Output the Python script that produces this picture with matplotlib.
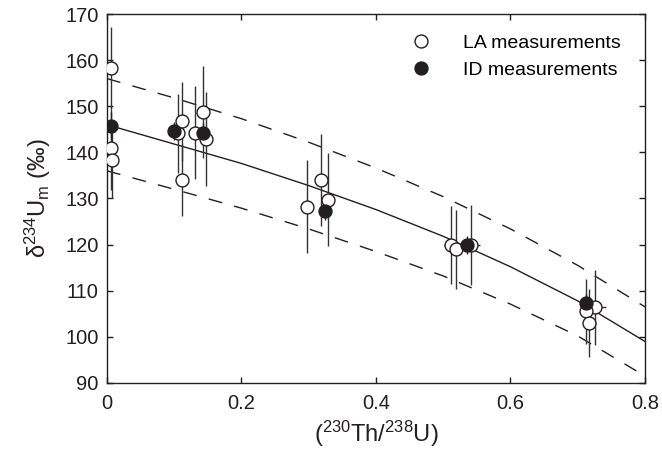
import matplotlib
matplotlib.use("Agg")
import matplotlib.pyplot as plt

plt.rcParams['font.family'] = ['Liberation Sans', 'DejaVu Sans']
plt.rcParams['mathtext.fontset'] = 'custom'
plt.rcParams['mathtext.rm'] = 'Liberation Sans'
plt.rcParams['mathtext.it'] = 'Liberation Sans:italic'

# LA measurements (open circles)
la_x = [0.006, 0.006, 0.007, 0.106, 0.112, 0.111, 0.131, 0.143, 0.147,
        0.298, 0.318, 0.329, 0.511, 0.519, 0.541, 0.726, 0.713, 0.717]
la_y = [158.4, 140.9, 138.3, 144.1, 146.7, 134.0, 144.3, 148.8, 142.9,
        128.2, 134.0, 129.7, 119.9, 119.0, 119.9, 106.4, 105.5, 103.0]
la_yerr = [8.7, 9.0, 8.3, 8.5, 8.6, 7.9, 10.0, 10.0, 10.2,
           10.1, 10.0, 10.1, 8.5, 8.6, 8.6, 8.2, 7.0, 7.4]
la_xerr = [0, 0, 0, 0, 0, 0, 0, 0, 0,
           0, 0, 0, 0.0095, 0, 0.013, 0.016, 0, 0.0095]

# ID measurements (filled circles)
id_x = [0.006, 0.099, 0.143, 0.324, 0.535, 0.712]
id_y = [145.8, 144.6, 144.3, 127.3, 119.9, 107.3]
id_yerr = [3.0, 2.0, 2.0, 2.0, 2.0, 2.0]

# model curve and envelope
curve_x = [0.0, 0.1, 0.2, 0.3, 0.4, 0.5, 0.6, 0.7, 0.8]
curve_mid = [146.0, 141.8, 137.6, 132.8, 127.6, 121.8, 115.2, 107.8, 99.0]
curve_hi = [156.0, 151.8, 147.3, 142.2, 136.6, 130.4, 123.4, 115.5, 106.5]
curve_lo = [136.0, 132.0, 127.9, 123.4, 118.5, 113.2, 107.1, 100.2, 91.5]

fig = plt.figure(figsize=(6.62, 4.58), dpi=100)
ax = fig.add_axes([0.1616, 0.1638, 0.8127, 0.8056])

ax.plot(curve_x, curve_mid, color='#231f20', lw=1.0, zorder=1)
ax.plot(curve_x, curve_hi, color='#231f20', lw=1.0, ls=(0, (10, 9)), zorder=1)
ax.plot(curve_x, curve_lo, color='#231f20', lw=1.0, ls=(0, (10, 9)), zorder=1)

ax.errorbar(la_x, la_y, yerr=la_yerr, xerr=la_xerr, fmt='none',
            ecolor='#333333', elinewidth=1.0, capsize=0, zorder=2)
ax.errorbar(id_x, id_y, yerr=id_yerr, fmt='none',
            ecolor='#231f20', elinewidth=1.0, capsize=0, zorder=2)
ax.plot(la_x, la_y, 'o', ms=9.3, mfc='white', mec='#231f20', mew=1.0,
        ls='none', zorder=3, label='LA measurements')
ax.plot(id_x, id_y, 'o', ms=9.3, mfc='#231f20', mec='#231f20', mew=1.0,
        ls='none', zorder=4, label='ID measurements')

ax.set_xlim(0, 0.8)
ax.set_ylim(90, 170)
ax.set_xticks([0, 0.2, 0.4, 0.6, 0.8])
ax.set_xticklabels(['0', '0.2', '0.4', '0.6', '0.8'])
ax.set_yticks(range(90, 171, 10))
ax.tick_params(direction='in', top=True, right=True, length=4, width=1,
               labelsize=14.5, color='#231f20', labelcolor='#231f20')
ax.tick_params(axis='x', pad=8)
ax.tick_params(axis='y', pad=6)
for s in ax.spines.values():
    s.set_linewidth(1.0)
    s.set_color('#231f20')

ax.set_xlabel(r'($^{230}$Th/$^{238}$U)', fontsize=17, color='#231f20', labelpad=4)
ax.set_ylabel(r'δ$^{234}$U$_\mathrm{m}$ (‰)', fontsize=17, color='#231f20', labelpad=9)

ax.legend(loc='upper left', frameon=False, fontsize=14, handlelength=2.0,
          handletextpad=1.13, borderaxespad=0, labelspacing=0.48,
          bbox_to_anchor=(0.534, 0.966))

fig.savefig('out.png', dpi=100)
